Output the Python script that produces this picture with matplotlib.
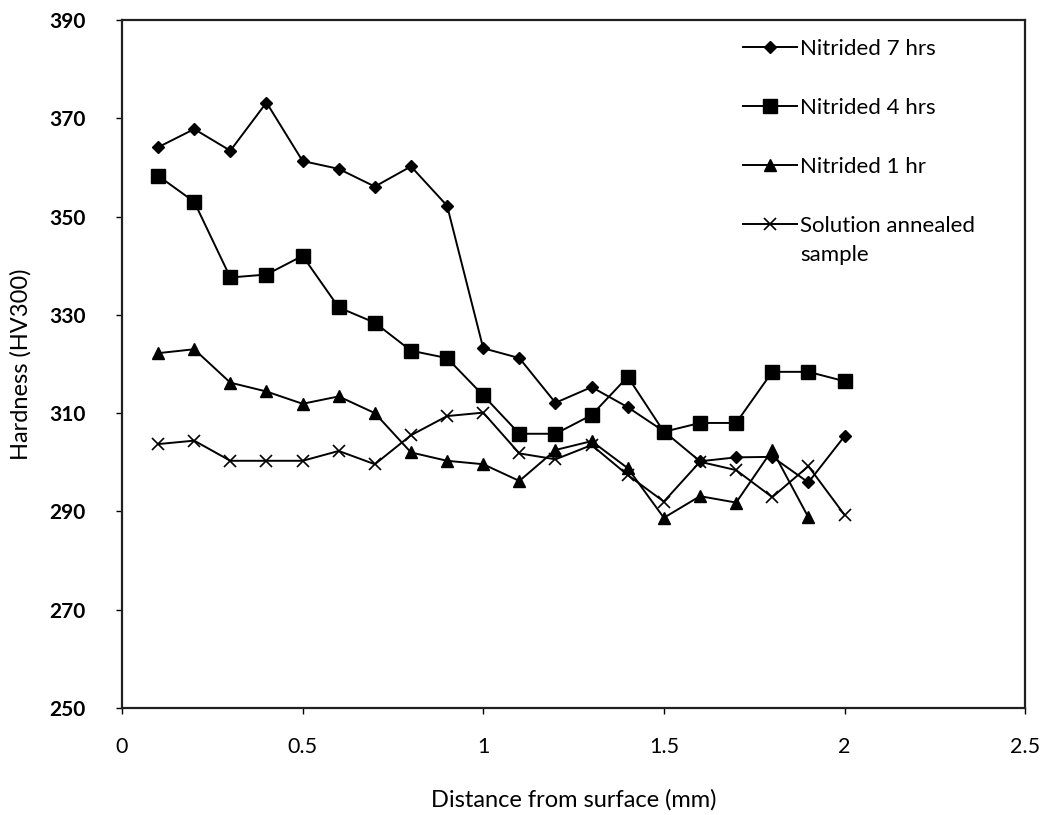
import numpy as np
import matplotlib.pyplot as plt

plt.rcParams['font.family'] = ['Lato', 'DejaVu Sans']

# Depth below the surface (mm)
depth = [0.1, 0.2, 0.3, 0.4, 0.5, 0.6, 0.7, 0.8, 0.9, 1.0,
         1.1, 1.2, 1.3, 1.4, 1.5, 1.6, 1.7, 1.8, 1.9, 2.0]

# Microhardness profiles (HV300)
hv_7hrs = [364.1, 367.8, 363.4, 373.2, 361.3, 359.7, 356.1, 360.2, 352.2, 323.2,
           321.2, 312.1, 315.3, 311.2, 306.3, 300.2, 301.0, 301.1, 295.9, 305.3]
hv_4hrs = [358.3, 353.0, 337.6, 338.2, 342.0, 331.5, 328.4, 322.7, 321.2, 313.6,
           305.8, 305.8, 309.6, 317.4, 306.2, 308.0, 308.0, 318.4, 318.4, 316.5]
hv_1hr = [322.2, 323.0, 316.2, 314.4, 311.9, 313.4, 310.0, 302.0, 300.3, 299.6,
          296.2, 302.5, 304.3, 298.8, 288.7, 293.1, 291.8, 302.5, 288.8]
hv_annealed = [303.7, 304.4, 300.3, 300.3, 300.3, 302.3, 299.6, 305.5, 309.4, 310.1,
               301.8, 300.6, 303.5, 297.4, 292.0, 300.1, 298.4, 292.9, 299.2, 289.3]

x_ticks = [0, 0.5, 1, 1.5, 2, 2.5]
x_ticklabels = ['0', '0.5', '1', '1.5', '2', '2.5']
y_ticks = [250, 270, 290, 310, 330, 350, 370, 390]

fig = plt.figure(figsize=(10.45, 8.15), dpi=100)
ax = fig.add_axes([0.1167, 0.1313, 0.8643, 0.8442])

lw = 1.4
ax.plot(depth, hv_7hrs, color='black', lw=lw, marker='D', ms=6.5,
        label='Nitrided 7 hrs')
ax.plot(depth, hv_4hrs, color='black', lw=lw, marker='s', ms=9.5,
        label='Nitrided 4 hrs')
ax.plot(depth[:len(hv_1hr)], hv_1hr, color='black', lw=lw, marker='^', ms=8.5,
        label='Nitrided 1 hr')
ax.plot(depth, hv_annealed, color='black', lw=lw, marker='x', ms=8.5, mew=1.2,
        label='Solution annealed\nsample')

ax.set_xlim(0, 2.5)
ax.set_ylim(250, 390)
ax.set_xticks(x_ticks)
ax.set_xticklabels(x_ticklabels)
ax.set_yticks(y_ticks)

for s in ax.spines.values():
    s.set_linewidth(1.6)
    s.set_color('#202020')

ax.tick_params(axis='x', direction='out', length=4, width=1, pad=17,
               labelsize=15.5, colors='black')
ax.tick_params(axis='y', direction='out', length=4, width=1, pad=22,
               labelsize=15, colors='black')
for lbl in ax.get_yticklabels():
    lbl.set_fontweight('bold')

ax.set_xlabel('Distance from surface (mm)', fontsize=17, labelpad=23)
ax.set_ylabel('Hardness (HV300)', fontsize=17, labelpad=13)

leg = ax.legend(loc='upper left', bbox_to_anchor=(0.678, 0.985), frameon=False,
                fontsize=16, handlelength=2.4, handletextpad=0.15,
                labelspacing=1.75, borderaxespad=0)
leg.get_texts()[-1].set_linespacing(1.6)
# keep the marker of the two-line entry level with its first line
rows = leg._legend_handle_box.get_children()[0].get_children()
rows[-1].align = 'top'

fig.savefig('out.png', dpi=100)
